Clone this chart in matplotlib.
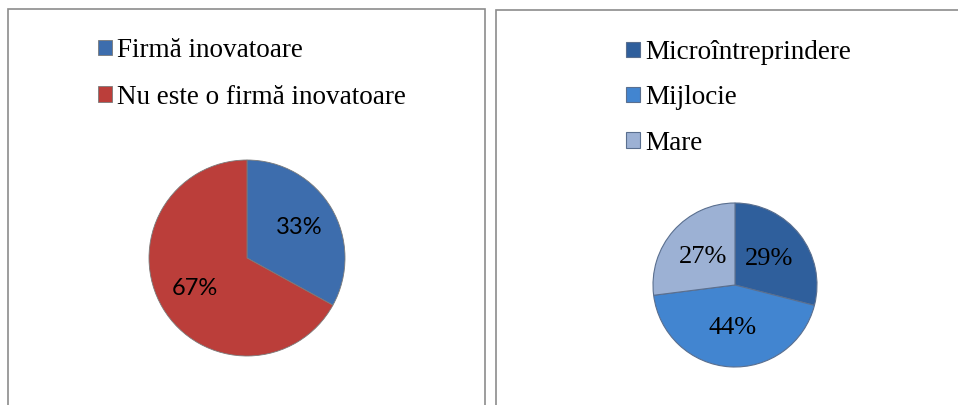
import matplotlib.pyplot as plt
from matplotlib.patches import Rectangle

# date
firma_labels = ['Firmă inovatoare', 'Nu este o firmă inovatoare']
firma_vals = [33, 67]
firma_colors = ['#3D6DAD', '#BB3E3A']

marime_labels = ['Microîntreprindere', 'Mijlocie', 'Mare']
marime_vals = [29, 44, 27]
marime_colors = ['#2F5F9C', '#4285D0', '#9CB1D4']

fig = plt.figure(figsize=(9.58, 4.05), dpi=100)
ax = fig.add_axes([0, 0, 1, 1])
ax.set_xlim(0, 958)
ax.set_ylim(0, 405)
ax.axis('off')

# chenare
ax.add_patch(Rectangle((8, -20), 477, 416, fill=False, edgecolor='#8c8c8c', lw=1.2))
ax.add_patch(Rectangle((496, -20), 480, 415, fill=False, edgecolor='#8c8c8c', lw=1.2))

# pie stanga
w1, t1, a1 = ax.pie(firma_vals, colors=firma_colors, startangle=90, counterclock=False,
                    center=(247, 147), radius=98, autopct='%1.0f%%', pctdistance=0.62,
                    wedgeprops=dict(edgecolor='#7a7a7a', linewidth=0.6),
                    textprops=dict(fontsize=17, family='Lato', color='black'))
ax.set_aspect('equal')

# pie dreapta
w2, t2, a2 = ax.pie(marime_vals, colors=marime_colors, startangle=90, counterclock=False,
                    center=(735, 120), radius=82, autopct='%1.0f%%', pctdistance=0.52,
                    wedgeprops=dict(edgecolor='#5a6f8f', linewidth=0.8),
                    textprops=dict(fontsize=19, family='Liberation Serif', color='black'))
ax.set_xlim(0, 958)
ax.set_ylim(0, 405)

leg1 = ax.legend(w1, firma_labels, loc='upper left', bbox_to_anchor=(98, 405 - 38),
                 bbox_transform=ax.transData, frameon=False,
                 prop=dict(family='Liberation Serif', size=19.5),
                 handlelength=0.5, handleheight=0.5, handletextpad=0.2, labelspacing=0.8,
                 borderaxespad=0, borderpad=0)
ax.add_artist(leg1)
ax.legend(w2, marime_labels, loc='upper left', bbox_to_anchor=(626, 405 - 40),
          bbox_transform=ax.transData, frameon=False,
          prop=dict(family='Liberation Serif', size=19.5),
          handlelength=0.5, handleheight=0.5, handletextpad=0.2, labelspacing=0.75,
          borderaxespad=0, borderpad=0)

fig.savefig('out.png', dpi=100)
